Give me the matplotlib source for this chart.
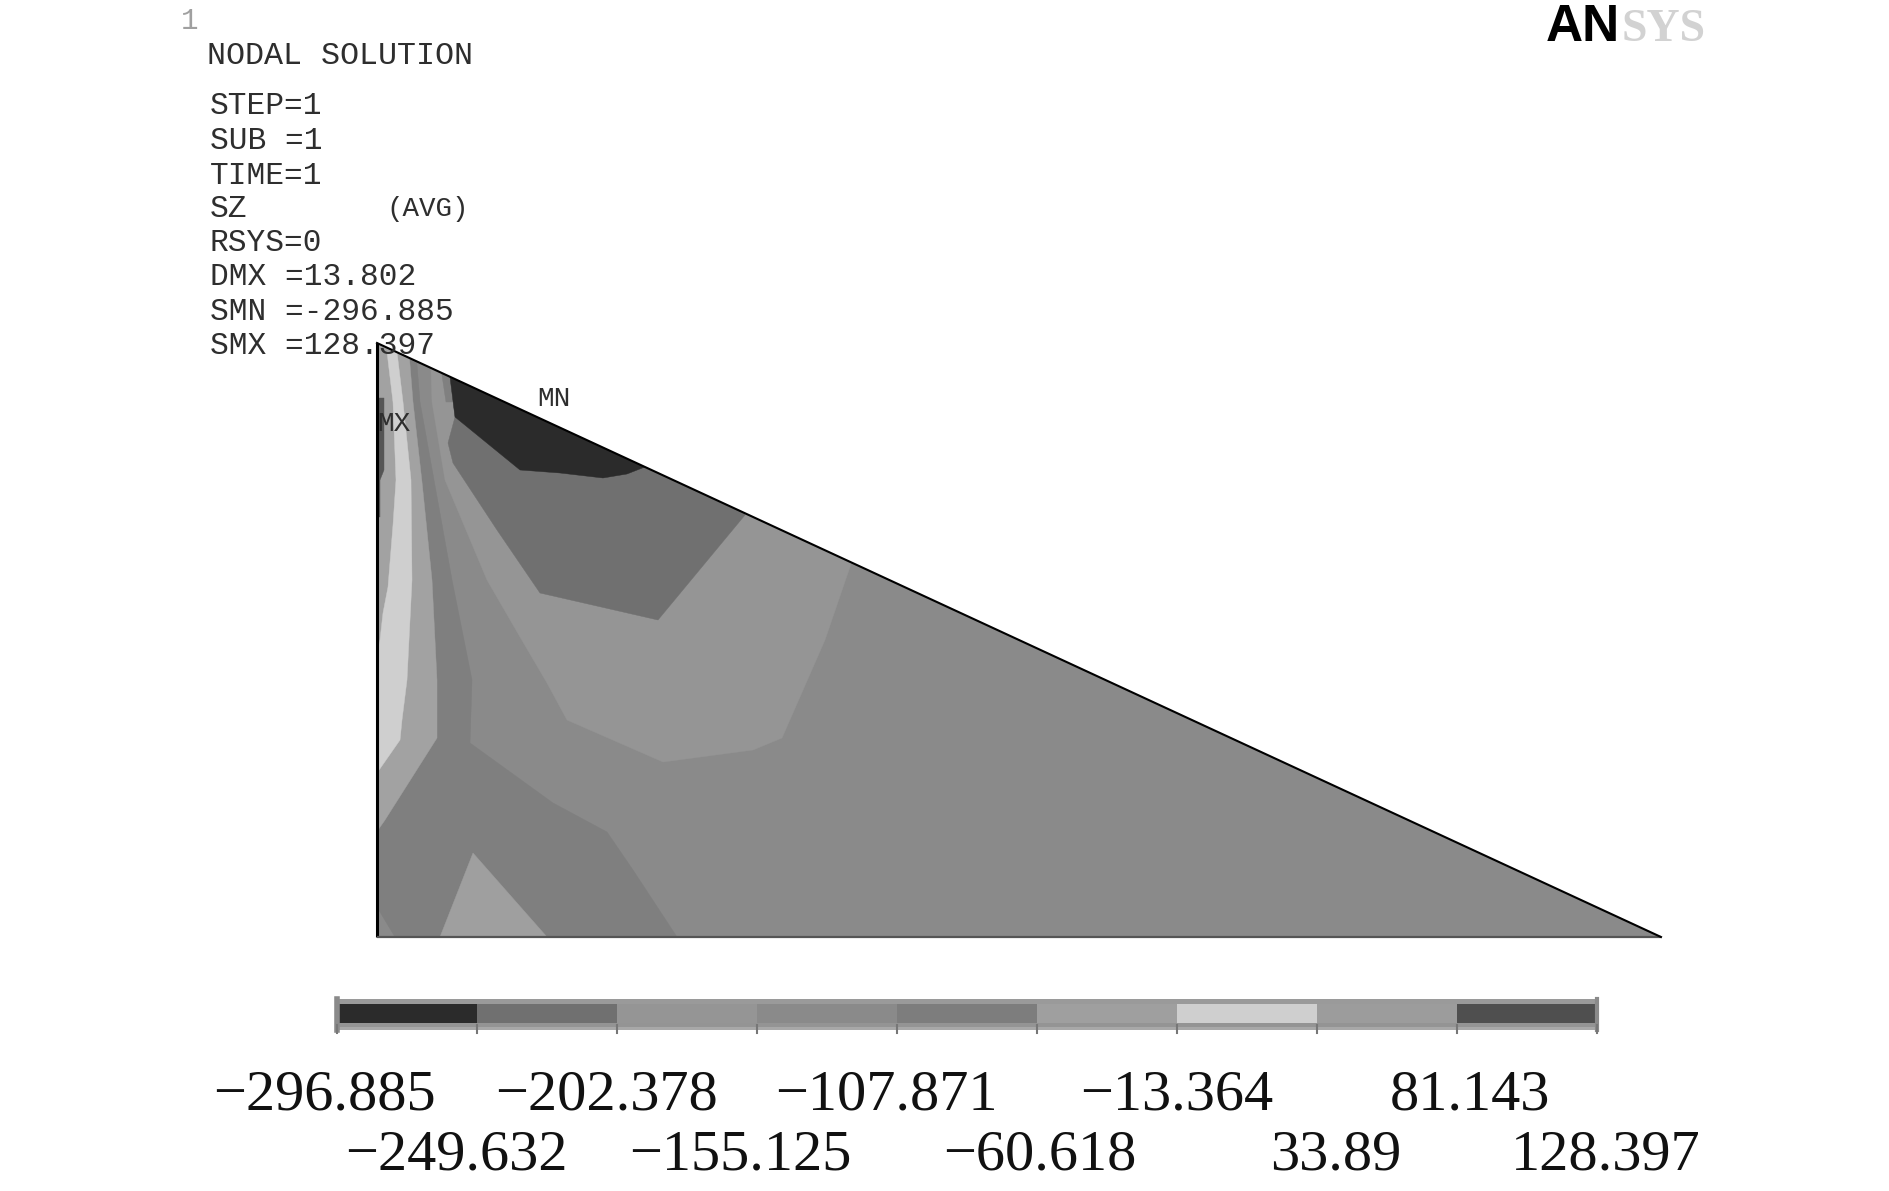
import matplotlib
matplotlib.use("Agg")
import matplotlib.pyplot as plt
from matplotlib.patches import Polygon
import numpy as np

# contour legend
levels = [-296.885, -249.632, -202.378, -155.125, -107.871, -60.618, -13.364, 33.89, 81.143, 128.397]
level_labels = ["\u2212296.885", "\u2212249.632", "\u2212202.378", "\u2212155.125", "\u2212107.871",
                "\u221260.618", "\u221213.364", "33.89", "81.143", "128.397"]
level_colors = ["#2b2b2b", "#707070", "#959595", "#8a8a8a", "#7d7d7d", "#9f9f9f", "#cfcfcf", "#9c9c9c", "#4f4f4f"]

# outline of the section and the contour bands (image pixels)
section = [(377, 343), (377, 937), (1661, 937)]
band_95 = [(430, 340), (432, 402), (445, 480), (487, 580), (520, 637), (547, 683), (567, 720), (663, 762),
           (753, 750), (782, 738), (825, 640), (851, 564), (851, 480), (430, 300)]
band_80_top = [(440, 362), (450, 365), (453, 402), (446, 402)]
band_70 = [(447, 355), (450, 377), (455, 417), (448, 443), (453, 463), (497, 530), (540, 593), (658, 620),
           (745, 515), (745, 480), (447, 340)]
band_2b = [(447, 355), (450, 377), (455, 417), (520, 470), (560, 473), (603, 478), (627, 474), (650, 465), (650, 440)]
band_80 = [(377, 343), (415, 340), (420, 402), (434, 480), (452, 580), (472, 680), (470, 743), (553, 803),
           (607, 832), (633, 870), (677, 937), (395, 937), (377, 907)]
band_9f = [(473, 853), (440, 937), (547, 937)]
band_a0 = [(377, 340), (408, 340), (413, 402), (422, 482), (432, 580), (437, 680), (437, 738), (385, 820),
           (378, 830), (377, 830)]
band_cf = [(387, 352), (393, 402), (396, 480), (393, 525), (388, 587), (383, 613), (380, 640), (377, 653),
           (377, 773), (400, 740), (402, 720), (407, 680), (412, 580), (411, 480), (403, 402), (397, 352)]
band_55 = [(377, 398), (384, 398), (384, 470), (380, 480), (380, 517), (377, 517)]

bands = [
    (section, "#8a8a8a"),
    (band_95, "#959595"),
    (band_80_top, "#808080"),
    (band_70, "#707070"),
    (band_2b, "#2b2b2b"),
    (band_80, "#7f7f7f"),
    (band_9f, "#9f9f9f"),
    (band_a0, "#a2a2a2"),
    (band_cf, "#cfcfcf"),
    (band_55, "#555555"),
]

info_lines = ["STEP=1", "SUB =1", "TIME=1", "SZ", "RSYS=0", "DMX =13.802", "SMN =-296.885", "SMX =128.397"]
info_y = [106, 141, 176, 209, 243, 277, 312, 346]
label_x = [324, 456, 607, 740, 886, 1040, 1177, 1336, 1470, 1606]

W, H = 1890, 1191
fig = plt.figure(figsize=(W / 100, H / 100), dpi=100, facecolor="white")
ax = fig.add_axes([0, 0, 1, 1])
ax.set_xlim(0, W)
ax.set_ylim(H, 0)
ax.axis("off")

clip = Polygon(section, closed=True, transform=ax.transData, fc="none", ec="none")
ax.add_patch(clip)
for pts, col in bands:
    p = Polygon(pts, closed=True, fc=col, ec=col, lw=0.3)
    ax.add_patch(p)
    p.set_clip_path(clip)

# edges of the section
sec = np.array(section)
ax.plot(sec[:2, 0], sec[:2, 1], color="black", lw=2.2, solid_capstyle="butt")
ax.plot(sec[1:, 0], sec[1:, 1], color="#555555", lw=1.6, solid_capstyle="butt")
ax.plot(sec[[0, 2], 0], sec[[0, 2], 1], color="black", lw=1.5)

# annotation block
mono = "Liberation Mono"
tc = "#2e2e2e"
ax.text(190, 21, "1", family=mono, fontsize=21, color="#a0a0a0", ha="center", va="center")
ax.text(207, 56, "NODAL SOLUTION", family=mono, fontsize=22.9, color=tc, va="center")
for line, y in zip(info_lines, info_y):
    ax.text(210, y, line, family=mono, fontsize=22.5, color=tc, va="center")
ax.text(386, 209, "(AVG)", family=mono, fontsize=19.8, color=tc, va="center")
ax.text(537, 399, "MN", family=mono, fontsize=20, color=tc, va="center")
ax.text(377, 424, "MX", family=mono, fontsize=20, color=tc, va="center")

# logo
ax.text(1546, 41, "AN", family="Liberation Sans", weight="bold", fontsize=37, color="black", va="baseline")
ax.text(1622, 41, "SYS", family="Liberation Serif", weight="bold", fontsize=33, color="#d2d2d2", va="baseline")

# legend bar
bar = fig.add_axes([337 / W, 1 - 1030 / H, (1597 - 337) / W, 31 / H])
bar.set_xlim(levels[0], levels[-1])
bar.set_ylim(31, 0)
bar.axis("off")
for i, col in enumerate(level_colors):
    bar.bar(levels[i], 19, width=levels[i + 1] - levels[i], bottom=5, align="edge", color=col, lw=0)
bar.axhspan(0, 5, color="#9a9a9a", lw=0)
bar.axhspan(24, 28, color="#3c3c3c", alpha=0.55, lw=0)
bar.axhspan(28, 31, color="#a8a8a8", lw=0)
bar.plot([levels[0], levels[0]], [0, 31], color="#8a8a8a", lw=4, clip_on=False)
bar.plot([levels[-1], levels[-1]], [0, 31], color="#8a8a8a", lw=3, clip_on=False)
for v in levels:
    bar.plot([v, v], [26, 34], color="#777777", lw=1.5, clip_on=False)

for i, (lab, x) in enumerate(zip(level_labels, label_x)):
    y = 1095 if i % 2 == 0 else 1155
    ax.text(x, y, lab, family="Liberation Serif", fontsize=42, color="#111111", ha="center", va="center")

fig.savefig("out.png", dpi=100)
